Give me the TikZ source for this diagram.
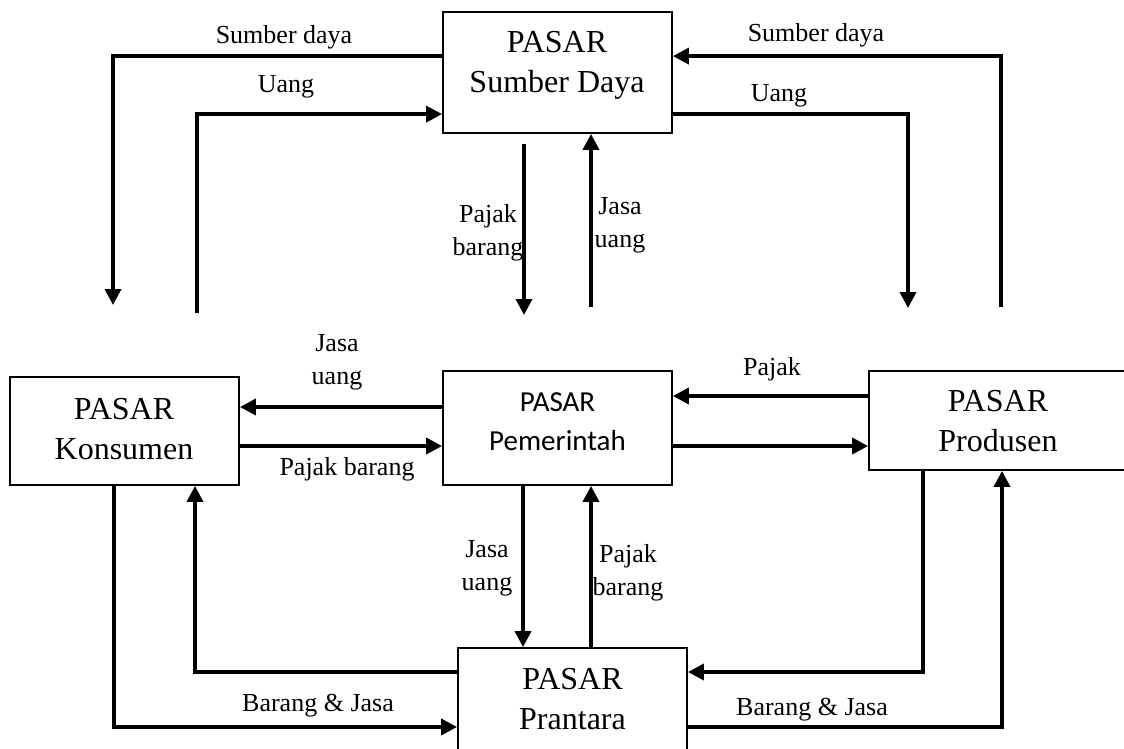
\documentclass[tikz,border=0pt]{standalone}
\usepackage{fontspec}
\setmainfont{Liberation Serif}
\newfontfamily\calib{Carlito}
\usetikzlibrary{arrows.meta,calc}
\tikzset{
  box/.style={draw, line width=1.8pt, rectangle, inner sep=0pt},
  boxtxt/.style={align=center, inner sep=0pt, font=\fontsize{32}{40}\selectfont},
  pemtxt/.style={align=center, inner sep=0pt, font=\calib\fontsize{29}{39}\selectfont},
  lbl/.style={align=center, inner sep=0pt, font=\fontsize{26}{33}\selectfont},
  flow/.style={line width=3.6pt, -{Triangle[length=16pt,width=16pt]}},
}
\begin{document}
\begin{tikzpicture}[x=1pt,y=-1pt]
\useasboundingbox (0,0) rectangle (1124,749);
\clip (0,0) rectangle (1124,749);
\fill[white] (0,0) rectangle (1124,749);

% boxes
\node[box, minimum width=229pt, minimum height=121pt] (top) at (557.5,72.5) {};
\node[box, minimum width=229pt, minimum height=108pt] (kon) at (124.5,431) {};
\node[box, minimum width=229pt, minimum height=114pt] (pem) at (557.5,428) {};
\node[box, minimum width=271pt, minimum height=99pt] (pro) at (1004.5,420.5) {};
\node[box, minimum width=229pt, minimum height=142pt] (pra) at (572.5,719) {};

% box texts
\node[boxtxt] (topT) at (557,65.2) {PASAR\\Sumber Daya};
\node[boxtxt] (konT) at (124,428.8) {PASAR\\Konsumen};
\node[pemtxt] (pemT) at (557.5,422) {PASAR\\Pemerintah};
\node[boxtxt] (proT) at (998,421.2) {PASAR\\Produsen};
\node[boxtxt] (praT) at (572.5,699.5) {PASAR\\Prantara};

% helper coordinates
\coordinate (sdL) at (113,305);
\coordinate (uL) at (197,313);
\coordinate (pbT) at (524,315);
\coordinate (juT) at (591,307);
\coordinate (sdR) at (1001,307);
\coordinate (uR) at (908,308);
\coordinate (yA) at (0,407);
\coordinate (yB) at (0,446);
\coordinate (yC) at (0,396);
\coordinate (xD) at (523,0);
\coordinate (xU) at (591,0);
\coordinate (kU) at (195,672);
\coordinate (kD) at (114,727);
\coordinate (pD) at (923,672);
\coordinate (pU) at (1002,727);

% top connectors
\draw[flow] ($(top.north west)+(0,45)$) -| (sdL);
\draw[flow] (uL) |- ($(top.north west)+(0,103)$);
\draw[flow] ($(top.south -| pbT)+(0,10)$) -- (pbT);
\draw[flow] (juT) -- (juT |- top.south);
\draw[flow] (sdR) |- ($(top.north east)+(0,45)$);
\draw[flow] ($(top.north east)+(0,103)$) -| (uR);

% middle connectors
\draw[flow] (pem.west |- yA) -- (kon.east |- yA);
\draw[flow] (kon.east |- yB) -- (pem.west |- yB);
\draw[flow] (pro.west |- yC) -- (pem.east |- yC);
\draw[flow] (pem.east |- yB) -- (pro.west |- yB);
\draw[flow] (pem.south -| xD) -- (pra.north -| xD);
\draw[flow] (pra.north -| xU) -- (pem.south -| xU);

% bottom connectors
\draw[flow] (pra.west |- kU) -| (kon.south -| kU);
\draw[flow] (kon.south -| kD) |- (pra.west |- kD);
\draw[flow] (pro.south -| pD) |- (pra.east |- pD);
\draw[flow] (pra.east |- pU) -| (pro.south -| pU);

% labels
\node[lbl] (l1) at (284,37) {Sumber daya};
\node[lbl] (l2) at (286,87) {Uang};
\node[lbl] (l3) at (816,35) {Sumber daya};
\node[lbl] (l4) at (779,96) {Uang};
\node[lbl] (l5) at (488,232.4) {Pajak\\barang};
\node[lbl] (l6) at (620,225.7) {Jasa\\uang};
\node[lbl] (l7) at (337,362.5) {Jasa\\uang};
\node[lbl] (l8) at (347,469) {Pajak barang};
\node[lbl] (l9) at (772,369) {Pajak};
\node[lbl] (l10) at (487,568) {Jasa\\uang};
\node[lbl] (l11) at (628,572.7) {Pajak\\barang};
\node[lbl] (l12) at (318,705.6) {Barang \& Jasa};
\node[lbl] (l13) at (812,709.2) {Barang \& Jasa};
\end{tikzpicture}
\end{document}
